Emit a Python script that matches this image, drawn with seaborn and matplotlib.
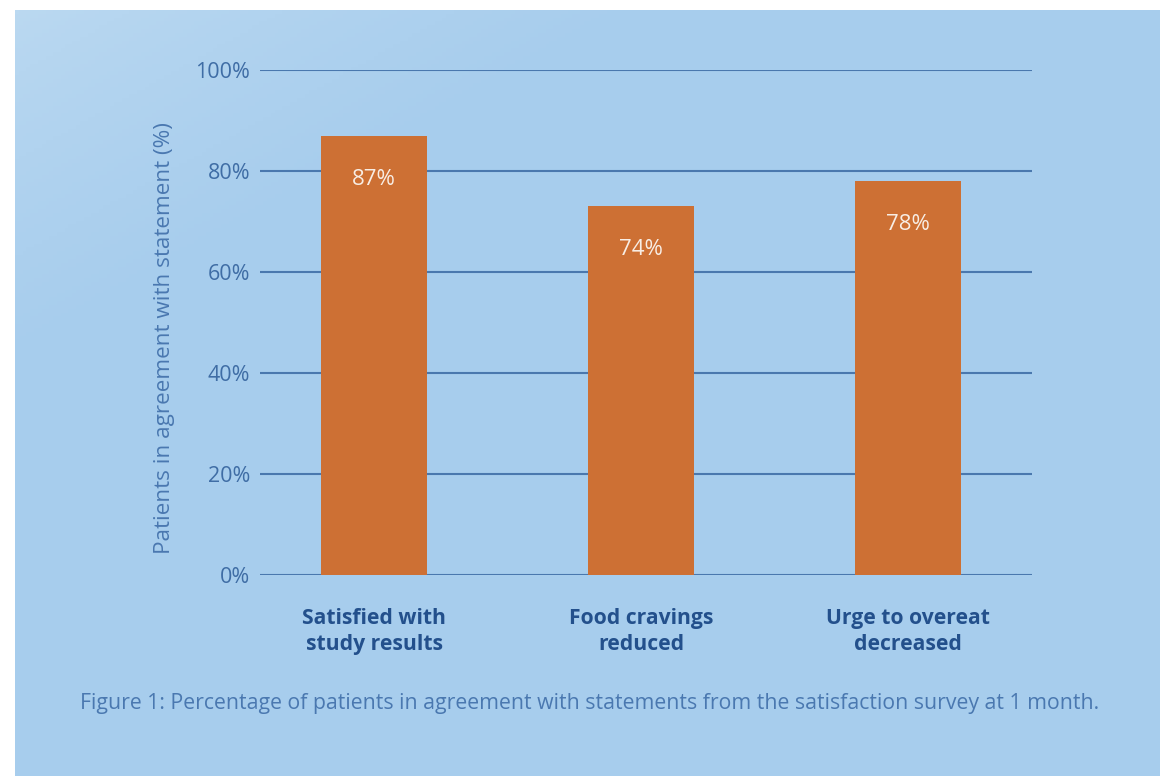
import numpy as np
import pandas as pd
import matplotlib
matplotlib.use("Agg")
import matplotlib.pyplot as plt
import seaborn as sns

categories = ["Satisfied with\nstudy results", "Food cravings\nreduced", "Urge to overeat\ndecreased"]
bar_heights = [87, 73, 78]
bar_labels = ["87%", "74%", "78%"]
yticks = [0, 20, 40, 60, 80, 100]
ytick_labels = ["0%", "20%", "40%", "60%", "80%", "100%"]
ylabel = "Patients in agreement with statement (%)"
caption = "Figure 1: Percentage of patients in agreement with statements from the satisfaction survey at 1 month."

sns.set_theme(style="white")
plt.rcParams["font.family"] = ["Open Sans", "DejaVu Sans"]

W, H = 1160, 776
fig = plt.figure(figsize=(W / 100, H / 100), dpi=100)
fig.patch.set_facecolor("white")

# background panel with gradient
bg = fig.add_axes([15 / W, 0, (W - 15) / W, (H - 10) / H], zorder=0)
ny, nx = 200, 300
yy, xx = np.mgrid[0:1:ny * 1j, 0:1:nx * 1j]
d = np.clip((xx * 1.0 + yy * 1.2) / 0.55, 0, 1) ** 0.8
c0 = np.array([0xBB, 0xD9, 0xF1]) / 255
c1 = np.array([0xA7, 0xCD, 0xED]) / 255
img = c0[None, None, :] * (1 - d[..., None]) + c1[None, None, :] * d[..., None]
bg.imshow(img, aspect="auto", extent=[0, 1, 0, 1], origin="upper")
bg.set_axis_off()

ax = fig.add_axes([260 / W, 1 - 575 / H, (1032 - 260) / W, (575 - 70) / H], zorder=1)
ax.patch.set_alpha(0)

df = pd.DataFrame({"cat": categories, "val": bar_heights})
sns.barplot(data=df, x="cat", y="val", color="#CD7034", saturation=1, width=0.397,
            ax=ax, zorder=3, linewidth=0, edgecolor="none")

ax.set_xlim(-0.427, 2.464)
ax.set_ylim(0, 100)
ax.set_yticks(yticks)
ax.set_yticklabels(ytick_labels)
for y in yticks:
    ax.axhline(y, color="#4A78AE", lw=1.5, zorder=1)
for s in ax.spines.values():
    s.set_visible(False)

tick_col = "#3F6DA5"
ax.tick_params(axis="y", length=0, pad=7, labelsize=15.5, labelcolor=tick_col)
ax.tick_params(axis="x", length=0, pad=24, labelsize=15.2, labelcolor="#23508C")
for lab in ax.get_xticklabels():
    lab.set_fontweight("bold")
    lab.set_linespacing(1.3)
ax.set_xlabel("")
ax.set_ylabel(ylabel, fontsize=16.2, color="#4A78B0")
ax.yaxis.set_label_coords(-0.128 + 14 / 772, 0.47)

for i, (h, t) in enumerate(zip(bar_heights, bar_labels)):
    ax.text(i, h - 8.6, t, ha="center", va="center", fontsize=16, color="#F8EDE4", zorder=5)

fig.text(590 / W, 1 - 703 / H, caption, ha="center", va="center", fontsize=15.3,
         color="#4A78B0")

fig.savefig("out.png", dpi=100)
